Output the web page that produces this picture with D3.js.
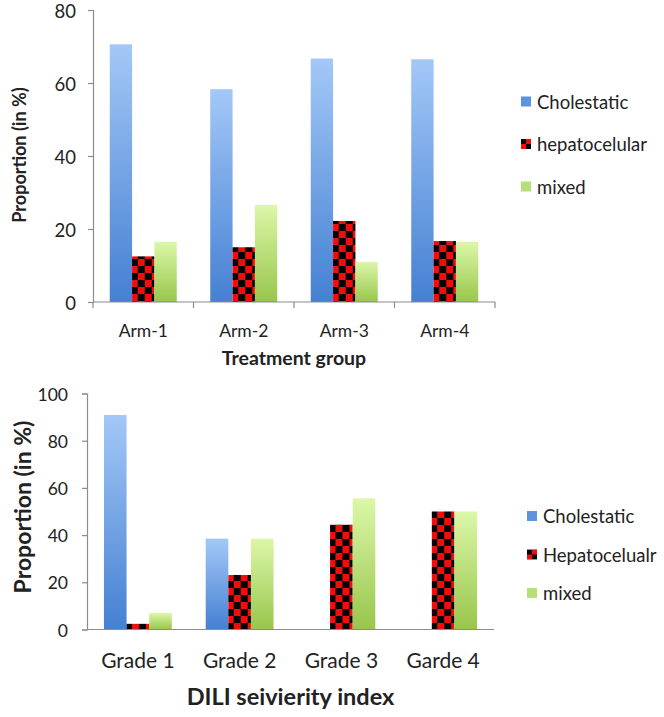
<!DOCTYPE html>
<html>
<head>
<meta charset="utf-8">
<script src="https://cdn.jsdelivr.net/npm/d3@7"></script>
<style>
  html, body { margin: 0; padding: 0; background: #fff; }
  svg { display: block; }
  text { font-family: Lato, "Open Sans", sans-serif; fill: #222; }
</style>
</head>
<body>
<svg id="chart" width="664" height="717"></svg>
<script>
// ---------- DATA ----------
const armCategories = ["Arm-1", "Arm-2", "Arm-3", "Arm-4"];
const armSeriesNames = ["Cholestatic", "hepatocelular", "mixed"];
const armCholestatic = [70.6, 58.3, 66.7, 66.5];
const armHepatocelular = [12.5, 15.0, 22.2, 16.7];
const armMixed = [16.5, 26.6, 11.0, 16.5];
const armTicks = [0, 20, 40, 60, 80];

const gradeCategories = ["Grade 1", "Grade 2", "Grade 3", "Garde 4"];
const gradeSeriesNames = ["Cholestatic", "Hepatocelualr", "mixed"];
const gradeCholestatic = [90.9, 38.5, 0, 0];
const gradeHepatocelular = [2.4, 23.1, 44.4, 50.0];
const gradeMixed = [7.0, 38.5, 55.6, 50.0];
const gradeTicks = [0, 20, 40, 60, 80, 100];

// ---------- SETUP ----------
const svg = d3.select("#chart");
const defs = svg.append("defs");

function vGrad(id, top, bottom) {
  const g = defs.append("linearGradient").attr("id", id)
    .attr("x1", 0).attr("y1", 0).attr("x2", 0).attr("y2", 1);
  g.append("stop").attr("offset", "0%").attr("stop-color", top);
  g.append("stop").attr("offset", "100%").attr("stop-color", bottom);
}
vGrad("gBlue", "#a3c8f7", "#4580d2");
vGrad("gGreen", "#dcf7a8", "#98c64c");

const chk = defs.append("pattern").attr("id", "checker")
  .attr("patternUnits", "userSpaceOnUse").attr("width", 14).attr("height", 14);
chk.append("rect").attr("width", 14).attr("height", 14).attr("fill", "#f20d0d");
chk.append("rect").attr("width", 7).attr("height", 7).attr("fill", "#000");
chk.append("rect").attr("x", 7).attr("y", 7).attr("width", 7).attr("height", 7).attr("fill", "#000");

const chkS = defs.append("pattern").attr("id", "checkerSmall")
  .attr("patternUnits", "objectBoundingBox").attr("width", 1).attr("height", 1);
chkS.append("rect").attr("width", 10).attr("height", 10).attr("fill", "#f20d0d");
chkS.append("rect").attr("width", 5).attr("height", 5).attr("fill", "#000");
chkS.append("rect").attr("x", 5).attr("y", 5).attr("width", 5).attr("height", 5).attr("fill", "#000");

const seriesFill = ["url(#gBlue)", "url(#checker)", "url(#gGreen)"];
const legendFill = ["#5b93dc", "url(#checkerSmall)", "#b5df78"];

function drawChart(cfg) {
  const g = svg.append("g");
  const y = d3.scaleLinear().domain([0, cfg.ticks[cfg.ticks.length - 1]])
    .range([cfg.y0, cfg.yTop]);
  const x0 = d3.scaleBand().domain(cfg.categories)
    .range([cfg.xLeft, cfg.xRight]).paddingInner(1/3).paddingOuter(1/6);
  const x1 = d3.scaleBand().domain(d3.range(3)).range([0, x0.bandwidth()]);

  const data = cfg.categories.map((c, i) => ({
    cat: c, vals: cfg.series.map(s => s[i])
  }));

  // bars
  const grp = g.selectAll("g.grp").data(data).join("g")
    .attr("transform", d => `translate(${x0(d.cat)},0)`);
  grp.selectAll("rect").data(d => d.vals.map((v, k) => ({ v, k })))
    .join("rect")
    .attr("x", d => x1(d.k))
    .attr("y", d => y(d.v))
    .attr("width", x1.bandwidth())
    .attr("height", d => cfg.y0 - y(d.v))
    .attr("fill", d => seriesFill[d.k]);

  // y axis
  const yAxis = d3.axisLeft(y).tickValues(cfg.ticks).tickSize(5).tickPadding(cfg.tickPad);
  const ya = g.append("g").attr("transform", `translate(${cfg.xLeft},0)`).call(yAxis);
  ya.select(".domain").attr("stroke", "#8c8c8c").attr("stroke-width", 1.2);
  ya.selectAll(".tick line").attr("stroke", "#8c8c8c").attr("stroke-width", 1.2);
  ya.selectAll(".tick text").style("font-family", "Lato, sans-serif")
    .style("font-size", cfg.tickFont + "px").attr("fill", "#222")
    .attr("dy", (0.32 + cfg.tickShift / cfg.tickFont) + "em");

  // x axis
  const xa = g.append("g").attr("transform", `translate(0,${cfg.y0})`);
  xa.append("line").attr("x1", cfg.xLeft).attr("x2", cfg.xRight)
    .attr("stroke", "#8c8c8c").attr("stroke-width", 1.2);
  if (cfg.xTicks) {
    const bounds = cfg.categories.map(c => x0(c) - x0.step() * x0.paddingInner() / 2 + x0.step());
    bounds.unshift(cfg.xLeft);
    xa.selectAll("line.tk").data(bounds).join("line").attr("class", "tk")
      .attr("x1", d => d).attr("x2", d => d).attr("y1", 0).attr("y2", 6)
      .attr("stroke", "#8c8c8c").attr("stroke-width", 1.2);
  }
  xa.selectAll("text.cat").data(cfg.categories).join("text").attr("class", "cat")
    .attr("x", d => x0(d) + x0.bandwidth() / 2)
    .attr("y", cfg.catY - cfg.y0)
    .attr("text-anchor", "middle")
    .style("font-size", cfg.catFont + "px")
    .text(d => d);

  // axis titles
  g.append("text").attr("x", (cfg.xLeft + cfg.xRight) / 2).attr("y", cfg.xTitleY)
    .attr("text-anchor", "middle").style("font-weight", "bold")
    .style("font-size", cfg.xTitleFont + "px").text(cfg.xTitle);
  g.append("text")
    .attr("transform", `translate(${cfg.yTitleX},${cfg.yTitleCY}) rotate(-90)`)
    .attr("text-anchor", "middle").attr("dominant-baseline", "central")
    .style("font-weight", "bold")
    .style("font-size", cfg.yTitleFont + "px").text("Proportion (in %)");

  // legend
  const lg = g.append("g").selectAll("g").data(cfg.seriesNames).join("g")
    .attr("transform", (d, i) => `translate(${cfg.legX},${cfg.legY + i * cfg.legStep})`);
  lg.append("rect").attr("x", 0).attr("y", -5).attr("width", 10).attr("height", 10)
    .attr("fill", (d, i) => legendFill[i]);
  lg.append("text").attr("x", 16).attr("y", 0).attr("dominant-baseline", "central")
    .style("font-size", cfg.legFont + "px").text(d => d);
}

drawChart({
  categories: armCategories,
  series: [armCholestatic, armHepatocelular, armMixed],
  seriesNames: armSeriesNames,
  ticks: armTicks,
  xLeft: 93, xRight: 495, y0: 302, yTop: 10,
  tickFont: 18.5, tickPad: 12, tickShift: 2, xTicks: true,
  catFont: 17.5, catY: 337,
  xTitle: "Treatment group", xTitleY: 365, xTitleFont: 19.5,
  yTitleX: 19, yTitleCY: 155, yTitleFont: 18,
  legX: 521, legY: 101.5, legStep: 42.5, legFont: 18.5
});

drawChart({
  categories: gradeCategories,
  series: [gradeCholestatic, gradeHepatocelular, gradeMixed],
  seriesNames: gradeSeriesNames,
  ticks: gradeTicks,
  xLeft: 87, xRight: 494, y0: 629.5, yTop: 393.5,
  tickFont: 17.5, tickPad: 14, tickShift: 1, xTicks: false,
  catFont: 21, catY: 668,
  xTitle: "DILI seivierity index", xTitleY: 705, xTitleFont: 23.5,
  yTitleX: 22, yTitleCY: 507, yTitleFont: 23,
  legX: 527, legY: 516, legStep: 38.5, legFont: 18.5
});
</script>
</body>
</html>
